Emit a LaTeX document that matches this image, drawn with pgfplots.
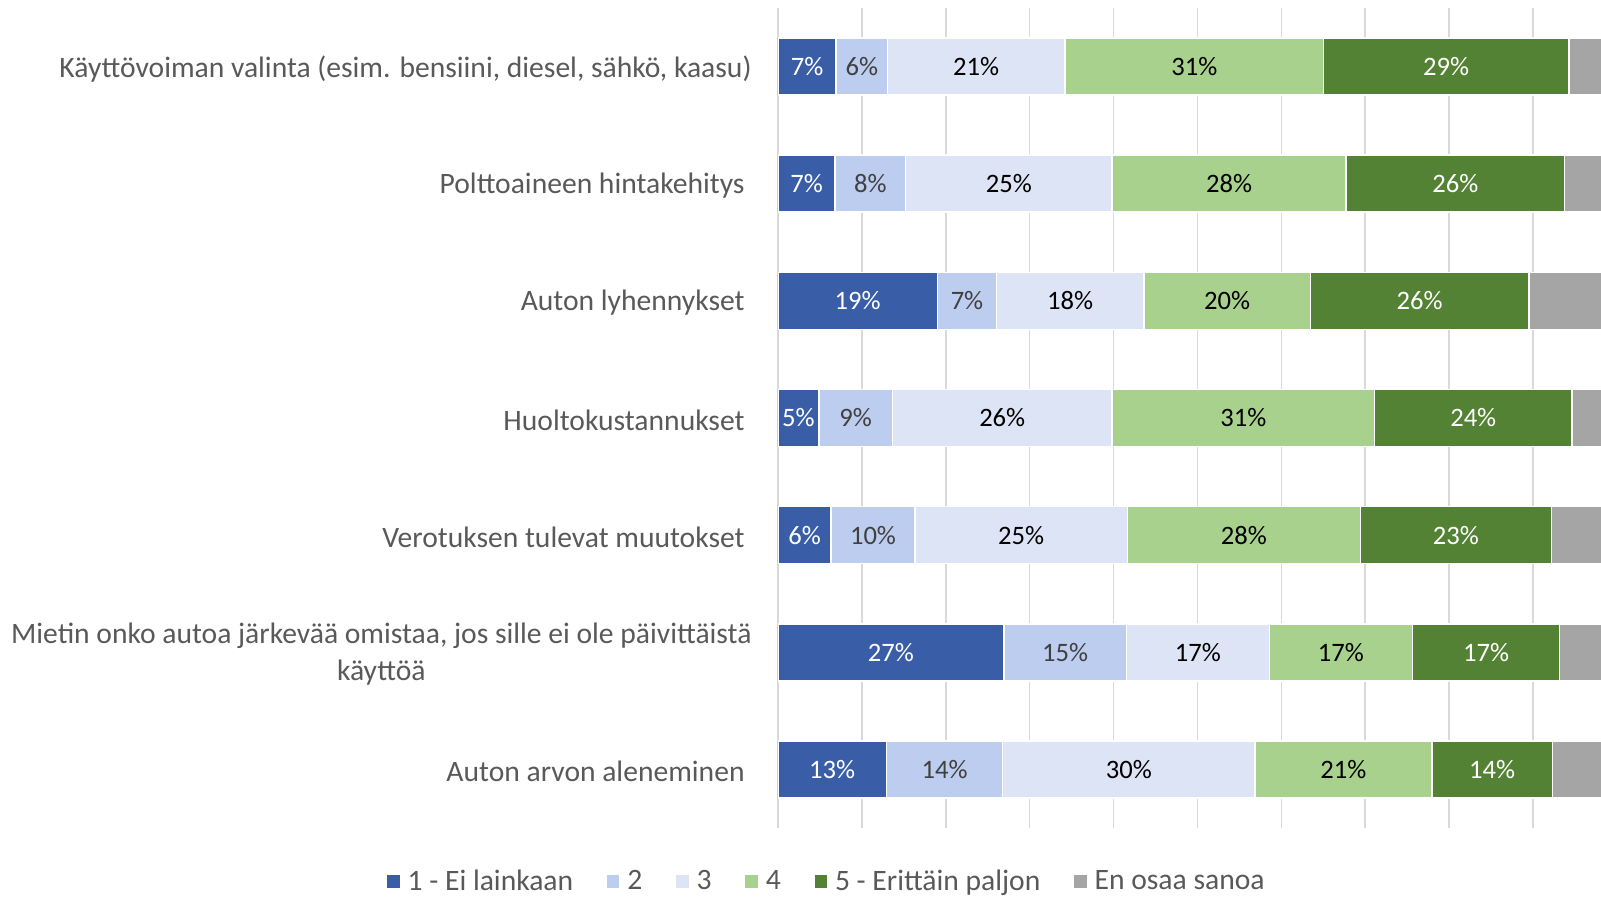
\documentclass[border=0pt]{standalone}
\usepackage{pgfplots}
\usepackage{pgfplotstable}
\pgfplotsset{compat=1.18}
\usepackage{fontspec}
\setmainfont{Carlito}
\definecolor{c1}{HTML}{395EA7}
\definecolor{c2}{HTML}{BDCDEF}
\definecolor{c3}{HTML}{DDE4F5}
\definecolor{c4}{HTML}{A9D18E}
\definecolor{c5}{HTML}{548235}
\definecolor{c6}{HTML}{A5A5A5}
\definecolor{txt}{HTML}{595959}
\definecolor{gridc}{HTML}{D9D9D9}

\pgfplotstableread{
y a b c d e f la lb lc ld le
0 6.94 6.09 21.19 30.81 29.23 5.74 7 6 21 31 29
1 6.82 8.40 24.60 27.89 26.06 6.23 7 8 25 28 26
2 19.00 7.06 17.54 19.85 26.06 10.49 19 7 18 20 26
3 4.87 8.77 26.18 31.30 23.51 5.37 5 9 26 31 24
4 6.33 9.99 25.33 27.77 22.77 7.81 6 10 25 28 23
5 26.92 14.61 17.05 17.05 17.54 6.83 27 15 17 17 17
6 12.91 13.88 30.08 21.07 14.37 7.69 13 14 30 21 14
}\data

\newcommand{\lblfont}{\fontsize{13.3}{16}\selectfont}
\newcommand{\mainfont}{\fontsize{14.8}{18.5}\selectfont}

\pgfplotsset{
  seg/.style n args={2}{
    fill=#1, draw=white, line width=0.75pt,
    nodes near coords={\pgfplotspointmeta\%},
    point meta=explicit symbolic,
    every node near coord/.append style={anchor=center, text=#2, font=\lblfont, inner sep=0pt},
  },
}

\begin{document}
\begin{tikzpicture}
\begin{axis}[
  at={(389pt,34pt)}, anchor=south west,
  scale only axis,
  width=411.5pt, height=410pt,
  xbar stacked,
  bar width=28.5pt,
  xmin=0, xmax=98.1,
  ymin=-0.5, ymax=6.5,
  y dir=reverse,
  xtick={0,10,...,90},
  xticklabels={},
  xmajorgrids,
  grid style={gridc, line width=0.8pt},
  axis line style={draw=none},
  tick style={draw=none},
  ytick={0,...,6},
  yticklabels={
    {Käyttövoiman valinta (esim. bensiini, diesel, sähkö, kaasu)\hspace*{-3.5pt}},
    {Polttoaineen hintakehitys},
    {Auton lyhennykset},
    {Huoltokustannukset},
    {Verotuksen tulevat muutokset},
    {Mietin onko autoa järkevää omistaa, jos sille ei ole päivittäistä\hspace*{-3.5pt}\\käyttöä\hspace*{-3.5pt}},
    {Auton arvon aleneminen}},
  yticklabel style={align=center, font=\mainfont, text=txt, inner sep=0pt, xshift=-16.5pt, yshift=-1pt},
  legend columns=-1,
  legend style={
    at={(0.0583,-0.0655)}, anchor=center,
    draw=none, fill=none, inner sep=0pt,
    font=\mainfont, text=txt,
    nodes={inner sep=0pt},
    /tikz/every odd column/.append style={column sep=4pt},
    /tikz/every even column/.append style={column sep=16.9pt},
  },
  legend image code/.code={\fill[#1,draw=none] (0pt,-3pt) rectangle (6.2pt,3.2pt);},
]
\addplot[seg={c1}{white}] table[x=a, y=y, meta=la] {\data};
\addplot[seg={c2}{black!75}] table[x=b, y=y, meta=lb] {\data};
\addplot[seg={c3}{black}] table[x=c, y=y, meta=lc] {\data};
\addplot[seg={c4}{black}] table[x=d, y=y, meta=ld] {\data};
\addplot[seg={c5}{white}] table[x=e, y=y, meta=le] {\data};
\addplot[fill=c6, draw=white, line width=0.75pt] table[x=f, y=y] {\data};
\legend{1 - Ei lainkaan, 2, 3, 4, 5 - Erittäin paljon, En osaa sanoa}
\end{axis}
\pgfresetboundingbox
\path (0pt,0pt) rectangle (800.5pt,448pt);
\end{tikzpicture}
\end{document}
